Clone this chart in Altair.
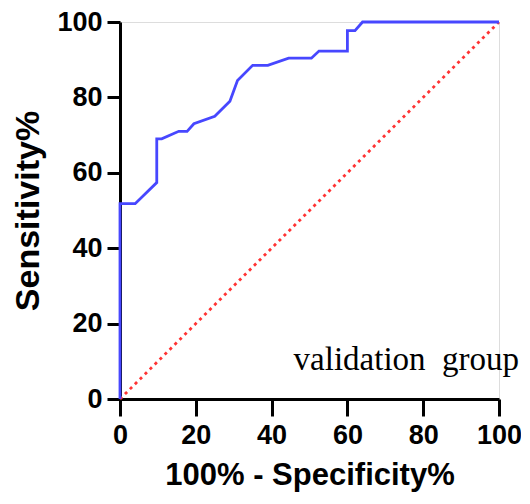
import altair as alt
import pandas as pd

# ROC curve points (100% - Specificity%, Sensitivity%)
fpr = [0, 0, 4, 9.7, 9.7, 11, 15.5, 17.7, 19.5, 25, 29, 31, 35, 39, 44.5, 50.5, 52.5, 60, 60, 62, 64, 100]
tpr = [0, 51.8, 51.8, 57.4, 69, 69, 71, 71, 73, 75, 79, 84.5, 88.5, 88.5, 90.4, 90.4, 92.3, 92.3, 97.7, 97.7, 100, 100]

ref_x = [0, 100]
ref_y = [0, 100]

label_text = ["validation\u2002group"]
label_x = [105.3]
label_y = [7.8]

ticks = [0, 20, 40, 60, 80, 100]

roc = pd.DataFrame({"x": fpr, "y": tpr, "o": list(range(len(fpr)))})
ref = pd.DataFrame({"x": ref_x, "y": ref_y})
lab = pd.DataFrame({"x": label_x, "y": label_y, "t": label_text})

xs = alt.Scale(domain=[0, 100], nice=False, zero=False)
ys = alt.Scale(domain=[0, 100], nice=False, zero=False)

x_axis = alt.Axis(
    title="100% - Specificity%", values=ticks, grid=False, labelFlush=False, labelOverlap=False,
    domainColor="black", domainWidth=3, tickColor="black", tickWidth=3, tickSize=17,
    labelFont="Liberation Sans", labelFontWeight="bold", labelFontSize=27, labelColor="black",
    labelPadding=6, titleFont="Liberation Sans", titleFontWeight="bold", titleFontSize=31,
    titleColor="black", titlePadding=12,
)
y_axis = alt.Axis(
    title="Sensitivity%", values=ticks, grid=False, labelFlush=False, labelOverlap=False,
    domainColor="black", domainWidth=3, tickColor="black", tickWidth=3, tickSize=13,
    labelFont="Liberation Sans", labelFontWeight="bold", labelFontSize=27, labelColor="black",
    labelPadding=5, titleFont="Liberation Sans", titleFontWeight="bold", titleFontSize=34,
    titleColor="black", titlePadding=11,
)

diag = alt.Chart(ref).mark_line(color="#FF3333", strokeWidth=2.8, strokeDash=[3, 4]).encode(
    x=alt.X("x:Q", scale=xs, axis=x_axis),
    y=alt.Y("y:Q", scale=ys, axis=y_axis),
)

curve = alt.Chart(roc).mark_line(color="#4747FF", strokeWidth=2.8).encode(
    x=alt.X("x:Q", scale=xs),
    y=alt.Y("y:Q", scale=ys),
    order="o:Q",
)

text = alt.Chart(lab).mark_text(
    font="Liberation Serif", fontSize=33, align="right", baseline="alphabetic", color="black"
).encode(
    x=alt.X("x:Q", scale=xs),
    y=alt.Y("y:Q", scale=ys),
    text="t:N",
)

chart = alt.layer(diag, curve, text).properties(
    width=379, height=377,
    autosize=alt.AutoSizeParams(type="none"),
    padding={"left": 112, "top": 14, "right": 22, "bottom": 97},
).configure_view(stroke=None).configure(background="white")

chart.save("out.html", embed_options={"renderer": "svg", "actions": False})
